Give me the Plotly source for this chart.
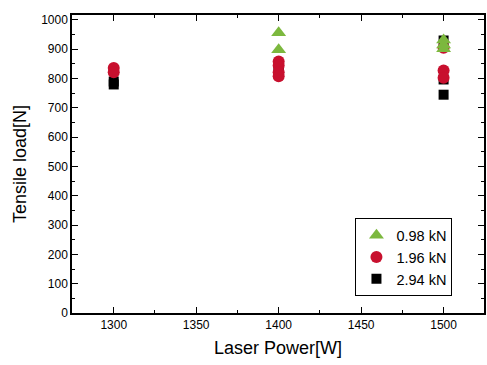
import plotly.graph_objects as go

# Data
x_098 = [1400, 1400, 1500, 1500, 1500]
y_098 = [956, 898, 932, 915, 902]

x_196 = [1300, 1300, 1400, 1400, 1400, 1400, 1500, 1500, 1500]
y_196 = [836, 822, 858, 845, 822, 808, 905, 828, 803]

x_294 = [1300, 1300, 1400, 1400, 1500, 1500, 1500]
y_294 = [790, 780, 840, 830, 930, 797, 745]

xticks = [1300, 1350, 1400, 1450, 1500]
yticks = [0, 100, 200, 300, 400, 500, 600, 700, 800, 900, 1000]

FONT = "Liberation Sans, Arial, sans-serif"

fig = go.Figure()
fig.add_trace(go.Scatter(x=x_294, y=y_294, mode="markers", name="2.94 kN",
                         marker=dict(symbol="square", size=10, color="#000000")))
fig.add_trace(go.Scatter(x=x_196, y=y_196, mode="markers", name="1.96 kN",
                         marker=dict(symbol="circle", size=12, color="#c8102e")))
fig.add_trace(go.Scatter(x=x_098, y=y_098, mode="markers", name="0.98 kN",
                         marker=dict(symbol="triangle-up", size=13, color="#7cb83e")))

axis_common = dict(showline=True, linecolor="black", linewidth=1.5, mirror="ticks",
                   ticks="inside", ticklen=6, tickwidth=1, tickcolor="black",
                   showgrid=False, zeroline=False,
                   tickfont=dict(family=FONT, size=12, color="black"))

fig.update_xaxes(range=[1274.7, 1524.5], tickvals=xticks,
                 minor=dict(dtick=25, ticks="inside", ticklen=3, tickcolor="black", showgrid=False),
                 title=dict(text="Laser Power[W]", font=dict(family=FONT, size=18, color="black"), standoff=10),
                 **axis_common)
fig.update_yaxes(range=[0, 1017], tickvals=yticks,
                 minor=dict(dtick=50, ticks="inside", ticklen=3, tickcolor="black", showgrid=False),
                 title=dict(text="Tensile load[N]", font=dict(family=FONT, size=18, color="black"), standoff=10),
                 **axis_common)

fig.update_layout(
    width=487, height=365,
    margin=dict(l=72, r=1, t=15, b=52),
    plot_bgcolor="white", paper_bgcolor="white",
    legend=dict(x=0.688, y=0.318, xanchor="left", yanchor="top",
                bordercolor="black", borderwidth=1, bgcolor="white",
                traceorder="reversed",
                font=dict(family=FONT, size=14.5, color="black"),
                itemwidth=30, tracegroupgap=0),
)

fig.write_html("out.html")
